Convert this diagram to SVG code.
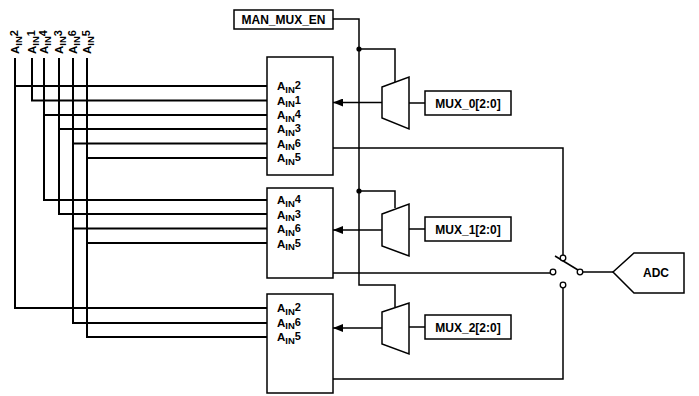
<svg xmlns="http://www.w3.org/2000/svg" width="699" height="396" viewBox="0 0 699 396">
<defs>
<style>
.box{fill:#fff;stroke:#000;stroke-width:1.5}
.w{fill:none;stroke:#000;stroke-width:2}
.c{fill:none;stroke:#000;stroke-width:1.5}
.t{font-family:"Liberation Sans",Arial,sans-serif;font-weight:bold;font-size:12px;fill:#000}
.a{font-family:"Liberation Sans",Arial,sans-serif;font-weight:bold;font-size:11.5px;fill:#000}
.s{font-size:9.5px}
.d{font-size:11px}
.pin{fill:#fff;stroke:#000;stroke-width:1.3}
</style>
<marker id="arr" viewBox="0 0 10 8" refX="10" refY="4" markerWidth="10" markerHeight="8" markerUnits="userSpaceOnUse" orient="auto">
<path d="M0,0 L10,4 L0,8 z" fill="#000"/>
</marker>
</defs>
<rect width="699" height="396" fill="#fff"/>

<g id="inputs">
<text class="a" transform="translate(19,54) rotate(-90)">A<tspan class="s" dy="2.5">IN</tspan><tspan class="d" dy="-3.5">2</tspan></text>
<text class="a" transform="translate(36,54) rotate(-90)">A<tspan class="s" dy="2.5">IN</tspan><tspan class="d" dy="-3.5">1</tspan></text>
<text class="a" transform="translate(48,54) rotate(-90)">A<tspan class="s" dy="2.5">IN</tspan><tspan class="d" dy="-3.5">4</tspan></text>
<text class="a" transform="translate(63,54) rotate(-90)">A<tspan class="s" dy="2.5">IN</tspan><tspan class="d" dy="-3.5">3</tspan></text>
<text class="a" transform="translate(77,54) rotate(-90)">A<tspan class="s" dy="2.5">IN</tspan><tspan class="d" dy="-3.5">6</tspan></text>
<text class="a" transform="translate(91,54) rotate(-90)">A<tspan class="s" dy="2.5">IN</tspan><tspan class="d" dy="-3.5">5</tspan></text>
</g>

<g id="connectors">
<path class="w" d="M15,58 V308 H267 M15,86 H267"/>
<path class="w" d="M32,58 V100.5 H267"/>
<path class="w" d="M44,58 V200 H267 M44,115 H267"/>
<path class="w" d="M59,58 V214 H267 M59,129 H267"/>
<path class="w" d="M73,58 V323 H267 M73,143.5 H267 M73,228.5 H267"/>
<path class="w" d="M87,58 V337 H267 M87,158 H267 M87,243 H267"/>
<path class="c" d="M333,19 H359 V285 H395 V307"/>
<path class="c" d="M359,49 H395 V82"/>
<path class="c" d="M359,191 H395 V208"/>
<circle cx="359" cy="49" r="2.6" fill="#000"/>
<circle cx="359" cy="191" r="2.6" fill="#000"/>
<path class="c" d="M382,102.5 H333" marker-end="url(#arr)"/>
<path class="c" d="M382,230 H333" marker-end="url(#arr)"/>
<path class="c" d="M382,328 H333" marker-end="url(#arr)"/>
<path class="c" d="M409,103 H425"/>
<path class="c" d="M409,229 H425"/>
<path class="c" d="M409,327 H425"/>
<path class="c" d="M333,148 H563 V255"/>
<path class="c" d="M333,273 H550"/>
<path class="c" d="M333,379 H563 V288"/>
<path class="c" d="M583,272 H613"/>
</g>

<g id="man_mux_en">
<rect class="box" x="234" y="10" width="99" height="19"/>
<text class="t" x="283.5" y="24" text-anchor="middle">MAN_MUX_EN</text>
</g>

<g id="block0">
<rect class="box" x="267" y="57" width="66" height="118"/>
<text class="a" x="277" y="90">A<tspan class="s" dy="2.5">IN</tspan><tspan class="d" dy="-3.5">2</tspan></text>
<text class="a" x="277" y="104.5">A<tspan class="s" dy="2.5">IN</tspan><tspan class="d" dy="-3.5">1</tspan></text>
<text class="a" x="277" y="119">A<tspan class="s" dy="2.5">IN</tspan><tspan class="d" dy="-3.5">4</tspan></text>
<text class="a" x="277" y="133">A<tspan class="s" dy="2.5">IN</tspan><tspan class="d" dy="-3.5">3</tspan></text>
<text class="a" x="277" y="147.5">A<tspan class="s" dy="2.5">IN</tspan><tspan class="d" dy="-3.5">6</tspan></text>
<text class="a" x="277" y="162">A<tspan class="s" dy="2.5">IN</tspan><tspan class="d" dy="-3.5">5</tspan></text>
</g>

<g id="block1">
<rect class="box" x="267" y="188" width="66" height="90"/>
<text class="a" x="277" y="204">A<tspan class="s" dy="2.5">IN</tspan><tspan class="d" dy="-3.5">4</tspan></text>
<text class="a" x="277" y="218.5">A<tspan class="s" dy="2.5">IN</tspan><tspan class="d" dy="-3.5">3</tspan></text>
<text class="a" x="277" y="233">A<tspan class="s" dy="2.5">IN</tspan><tspan class="d" dy="-3.5">6</tspan></text>
<text class="a" x="277" y="247.5">A<tspan class="s" dy="2.5">IN</tspan><tspan class="d" dy="-3.5">5</tspan></text>
</g>

<g id="block2">
<rect class="box" x="267" y="294" width="66" height="99"/>
<text class="a" x="277" y="312">A<tspan class="s" dy="2.5">IN</tspan><tspan class="d" dy="-3.5">2</tspan></text>
<text class="a" x="277" y="326.5">A<tspan class="s" dy="2.5">IN</tspan><tspan class="d" dy="-3.5">6</tspan></text>
<text class="a" x="277" y="341">A<tspan class="s" dy="2.5">IN</tspan><tspan class="d" dy="-3.5">5</tspan></text>
</g>

<g id="mux0">
<polygon class="box" points="382,87 409,77 409,129 382,118"/>
</g>
<g id="mux1">
<polygon class="box" points="382,214 409,204 409,256 382,246"/>
</g>
<g id="mux2">
<polygon class="box" points="382,312 409,303 409,354 382,344"/>
</g>

<g id="mux0_sel">
<rect class="box" x="425" y="91" width="86" height="24"/>
<text class="t" x="468" y="107.5" text-anchor="middle">MUX_0[2:0]</text>
</g>
<g id="mux1_sel">
<rect class="box" x="425" y="217" width="86" height="24"/>
<text class="t" x="468" y="233.5" text-anchor="middle">MUX_1[2:0]</text>
</g>
<g id="mux2_sel">
<rect class="box" x="425" y="315" width="86" height="24"/>
<text class="t" x="468" y="331.5" text-anchor="middle">MUX_2[2:0]</text>
</g>

<g id="switch">
<line class="c" x1="555" y1="256" x2="578" y2="270"/>
<circle class="pin" cx="563" cy="258" r="2.8"/>
<circle class="pin" cx="563" cy="285" r="2.8"/>
<circle class="pin" cx="553" cy="272" r="2.8"/>
<circle class="pin" cx="580" cy="272" r="2.8"/>
</g>

<g id="adc">
<polygon class="box" points="613,272 634,253 684,253 684,293 634,293"/>
<text class="t" x="656" y="276.5" text-anchor="middle">ADC</text>
</g>
</svg>
